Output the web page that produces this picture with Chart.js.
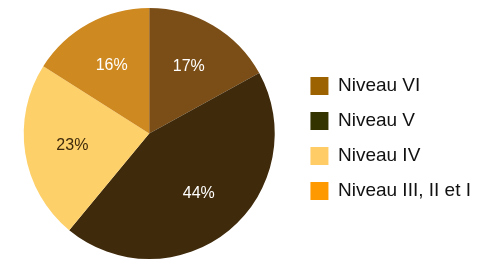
<!DOCTYPE html>
<html>
<head>
<meta charset="utf-8">
<script src="https://cdn.jsdelivr.net/npm/chart.js@4"></script>
<style>
  html, body { margin: 0; padding: 0; background: #fff; }
  #wrap { width: 477px; height: 260px; }
</style>
</head>
<body>
<div id="wrap"><canvas id="myChart"></canvas></div>
<script>
var categories = ['Niveau VI', 'Niveau V', 'Niveau IV', 'Niveau III, II et I'];
var values = [17, 44, 23, 16];
var sliceColors = ['#7b4e17', '#3f2a0b', '#fdd06a', '#ce8920'];
var legendColors = ['#9c6200', '#333300', '#ffcc66', '#ff9900'];
var labelColors = ['#ffffff', '#ffffff', '#3f2a0b', '#ffffff'];

// petites etiquettes de pourcentage dans les parts
var pctLabels = {
  id: 'pctLabels',
  afterDatasetsDraw: function(chart) {
    var ctx = chart.ctx;
    var meta = chart.getDatasetMeta(0);
    ctx.save();
    ctx.font = '16px "Liberation Sans", Arial, sans-serif';
    ctx.textAlign = 'center';
    ctx.textBaseline = 'middle';
    meta.data.forEach(function(arc, i) {
      var p = arc.getProps(['x', 'y', 'startAngle', 'endAngle', 'outerRadius'], true);
      var mid = (p.startAngle + p.endAngle) / 2;
      var r = p.outerRadius * 0.62;
      ctx.fillStyle = labelColors[i];
      ctx.fillText(values[i] + '%', p.x + Math.cos(mid) * r, p.y + Math.sin(mid) * r);
    });
    ctx.restore();
  }
};

var ctx = document.getElementById('myChart');
var myChart = new Chart(ctx, {
  type: 'pie',
  data: {
    labels: categories,
    datasets: [{
      data: values,
      backgroundColor: sliceColors,
      borderWidth: 0
    }]
  },
  options: {
    responsive: true,
    maintainAspectRatio: false,
    animation: false,
    layout: { padding: { top: 8, bottom: 1, left: 4, right: -4 } },
    plugins: {
      tooltip: { enabled: false },
      legend: {
        position: 'right',
        // titre vide juste pour descendre un peu la legende
        title: { display: true, text: ' ', color: '#111', font: { size: 5 }, padding: { top: 2, bottom: 2 } },
        labels: {
          boxWidth: 18,
          boxHeight: 18,
          padding: 16,
          color: '#111',
          font: { family: '"Liberation Sans", Arial, sans-serif', size: 19 },
          generateLabels: function(chart) {
            return categories.map(function(c, i) {
              return { text: c, fillStyle: legendColors[i], strokeStyle: legendColors[i], fontColor: '#111', lineWidth: 0, index: i, hidden: false };
            });
          }
        }
      }
    }
  },
  plugins: [pctLabels]
});
</script>
</body>
</html>
